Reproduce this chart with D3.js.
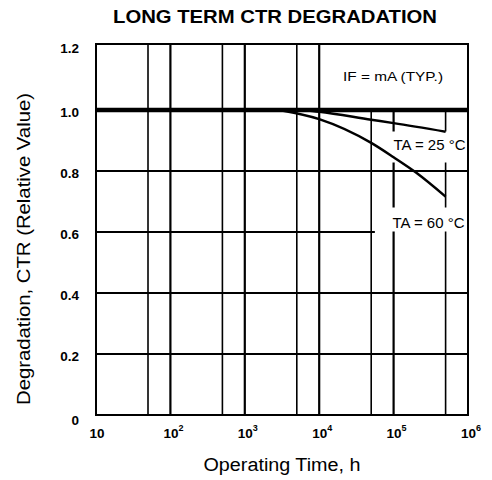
<!DOCTYPE html>
<html>
<head>
<meta charset="utf-8">
<script src="https://cdn.jsdelivr.net/npm/d3@7.9.0/dist/d3.min.js"></script>
<style>
  body { margin: 0; background: #fff; }
  svg { display: block; font-family: "Liberation Sans", Arial, Helvetica, sans-serif; }
</style>
</head>
<body>
<svg id="chart" width="492" height="480"></svg>
<script>
// chart values
const xTickValues = [10, 1e2, 1e3, 1e4, 1e5, 1e6];
const xTickExps = [null, 2, 3, 4, 5, 6];
const xGrid = [50, 100, 500, 1000, 5000, 1e4, 5e4, 1e5, 5e5];
const yTickValues = [0, 0.2, 0.4, 0.6, 0.8, 1.0, 1.2];

const ta25Time = [6000, 1e4, 5e4, 1e5, 5e5];
const ta25Ctr = [1.0, 0.994, 0.968, 0.957, 0.929];
const ta60Time = [2900, 1e4, 5e4, 1e5, 2e5, 5e5];
const ta60Ctr = [1.0, 0.97, 0.892, 0.845, 0.795, 0.716];

const svg = d3.select('#chart');
const plotL = 96, plotR = 468, plotT = 44, plotB = 415;

const x = d3.scaleLog().domain([10, 1e6]).range([plotL, plotR]);
const y = d3.scaleLinear().domain([0, 1.2]).range([plotB, 49]);

// title
svg.append('text')
  .attr('x', 275).attr('y', 23)
  .attr('text-anchor', 'middle')
  .attr('font-weight', 'bold')
  .attr('font-size', 19)
  .attr('textLength', 324)
  .attr('lengthAdjust', 'spacingAndGlyphs')
  .text('LONG TERM CTR DEGRADATION');

const grid = svg.append('g').attr('stroke', '#000').attr('fill', 'none');

// vertical grid: right of 10^4 the lines stop at 1.0 (label box above)
xGrid.forEach(t => {
  grid.append('line')
    .attr('x1', x(t)).attr('x2', x(t))
    .attr('y1', t > 1e4 ? y(1.0) : plotT).attr('y2', plotB)
    .attr('stroke-width', Math.log10(t) % 1 === 0 ? 2.2 : 1.6);
});

// horizontal grid
yTickValues.slice(1, -1).forEach(v => {
  grid.append('line')
    .attr('x1', plotL)
    .attr('x2', v === 0.6 ? x(5.6e4) : plotR)
    .attr('y1', y(v)).attr('y2', y(v))
    .attr('stroke-width', v === 1.0 ? 4.5 : 2);
});

// white boxes behind the curve labels, cutting the grid lines
const boxes = svg.append('g');
const labels = [];
function boxedLabel(txt, cx, cy, padX, padTop, padBot) {
  const r = boxes.append('rect').attr('fill', '#fff');
  const t = svg.append('text')
    .attr('x', cx).attr('y', cy)
    .attr('text-anchor', 'middle')
    .attr('dominant-baseline', 'central')
    .attr('font-size', 14)
    .attr('textLength', 72)
    .attr('lengthAdjust', 'spacingAndGlyphs')
    .text(txt);
  const b = t.node().getBBox();
  r.attr('x', b.x - padX).attr('y', b.y - padTop)
   .attr('width', b.width + padX * 2).attr('height', b.height + padTop + padBot);
  labels.push(t);
}
boxedLabel('TA = 25 °C', 429.5, 144.5, 4, 5, 10);
boxedLabel('TA = 60 °C', 428.5, 222.5, 5, 7, 1);

// frame
svg.append('rect')
  .attr('x', plotL).attr('y', plotT)
  .attr('width', plotR - plotL).attr('height', plotB - plotT)
  .attr('fill', 'none').attr('stroke', '#000').attr('stroke-width', 2);

// curves
const line = d3.line()
  .x(d => x(d[0])).y(d => y(d[1]))
  .curve(d3.curveMonotoneX);

[[ta25Time, ta25Ctr], [ta60Time, ta60Ctr]].forEach(([ts, vs]) => {
  svg.append('path')
    .datum(ts.map((t, i) => [t, vs[i]]))
    .attr('d', line)
    .attr('fill', 'none')
    .attr('stroke', '#000')
    .attr('stroke-width', 2.5);
});

labels.forEach(t => t.raise());

svg.append('text')
  .attr('x', 393).attr('y', 77)
  .attr('text-anchor', 'middle')
  .attr('dominant-baseline', 'central')
  .attr('font-size', 12.5)
  .attr('textLength', 100)
  .attr('lengthAdjust', 'spacingAndGlyphs')
  .text('IF = mA (TYP.)');

// y tick labels
svg.append('g').selectAll('text')
  .data(yTickValues)
  .join('text')
  .attr('x', 79)
  .attr('y', d => y(d) + (d === 0 ? 5 : d === 1.2 ? -1 : 2))
  .attr('text-anchor', 'end')
  .attr('dominant-baseline', 'central')
  .attr('font-size', 13.5)
  .attr('font-weight', 'bold')
  .text(d => d === 0 ? '0' : d.toFixed(1));

// x tick labels with superscripts
const xl = svg.append('g').selectAll('text')
  .data(xTickValues)
  .join('text')
  .attr('x', (d, i) => x(d) + (i === 0 ? 1 : 3))
  .attr('y', 438)
  .attr('text-anchor', 'middle')
  .attr('font-size', 13.5)
  .attr('font-weight', 'bold');
xl.append('tspan').text('10');
xl.filter((d, i) => xTickExps[i] !== null)
  .append('tspan')
  .attr('dy', -7)
  .attr('font-size', 9)
  .text(d => xTickExps[xTickValues.indexOf(d)]);

// axis titles
svg.append('text')
  .attr('x', 282).attr('y', 471)
  .attr('text-anchor', 'middle')
  .attr('font-size', 18)
  .attr('textLength', 157)
  .attr('lengthAdjust', 'spacingAndGlyphs')
  .text('Operating Time, h');

svg.append('text')
  .attr('transform', 'translate(30,249) rotate(-90)')
  .attr('text-anchor', 'middle')
  .attr('font-size', 18)
  .attr('textLength', 312)
  .attr('lengthAdjust', 'spacingAndGlyphs')
  .text('Degradation, CTR  (Relative Value)');
</script>
</body>
</html>
